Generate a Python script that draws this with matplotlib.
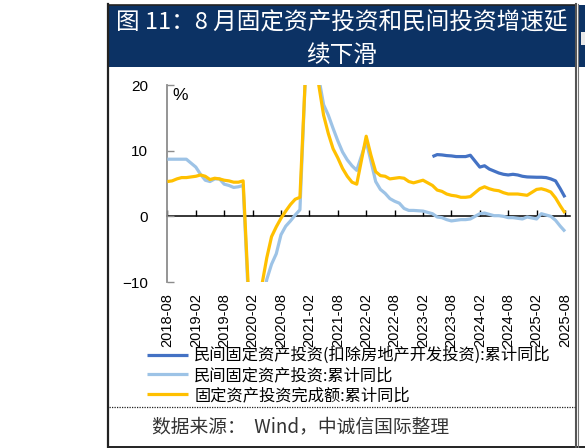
import matplotlib
matplotlib.use("Agg")
import matplotlib.pyplot as plt
from matplotlib.lines import Line2D
from matplotlib.patches import Rectangle
from matplotlib.font_manager import FontProperties

plt.rcParams['font.family'] = ['Noto Sans CJK SC', 'DejaVu Sans']
plt.rcParams['axes.unicode_minus'] = True

# ---------------- data ----------------
fai_dates = ['2018-08','2018-09','2018-10','2018-11','2018-12',
             '2019-02','2019-03','2019-04','2019-05','2019-06','2019-07','2019-08','2019-09','2019-10','2019-11','2019-12',
             '2020-02','2020-03','2020-04','2020-05','2020-06','2020-07','2020-08','2020-09','2020-10','2020-11','2020-12',
             '2021-02','2021-03','2021-04','2021-05','2021-06','2021-07','2021-08','2021-09','2021-10','2021-11','2021-12',
             '2022-02','2022-03','2022-04','2022-05','2022-06','2022-07','2022-08','2022-09','2022-10','2022-11','2022-12',
             '2023-02','2023-03','2023-04','2023-05','2023-06','2023-07','2023-08','2023-09','2023-10','2023-11','2023-12',
             '2024-02','2024-03','2024-04','2024-05','2024-06','2024-07','2024-08','2024-09','2024-10','2024-11','2024-12',
             '2025-02','2025-03','2025-04','2025-05','2025-06','2025-07','2025-08']
fai_total = [5.3, 5.4, 5.7, 5.9, 5.9,
             6.1, 6.3, 6.1, 5.6, 5.8, 5.7, 5.5, 5.4, 5.2, 5.2, 5.4,
             -24.5, -16.1, -10.3, -6.3, -3.1, -1.6, -0.3, 0.8, 1.8, 2.6, 2.9,
             35.0, 25.6, 19.9, 15.4, 12.6, 10.3, 8.9, 7.3, 6.1, 5.2, 4.9,
             12.2, 9.3, 6.8, 6.2, 6.1, 5.7, 5.8, 5.9, 5.8, 5.3, 5.1,
             5.5, 5.1, 4.7, 4.0, 3.8, 3.4, 3.2, 3.1, 2.9, 2.9, 3.0,
             4.2, 4.5, 4.2, 4.0, 3.9, 3.6, 3.4, 3.4, 3.4, 3.3, 3.2,
             4.1, 4.2, 4.0, 3.7, 2.8, 1.6, 0.5]
fai_private = [8.7, 8.7, 8.7, 8.7, 8.7,
               7.5, 6.4, 5.5, 5.3, 5.7, 5.7, 4.9, 4.7, 4.4, 4.5, 4.7,
               -26.4, -18.8, -13.3, -9.6, -7.3, -5.7, -2.8, -1.5, -0.7, 0.2, 1.0,
               36.4, 26.0, 21.0, 17.0, 15.4, 13.4, 11.5, 9.8, 8.6, 7.7, 7.0,
               11.4, 8.4, 5.3, 4.1, 3.5, 2.7, 2.3, 2.0, 1.2, 0.9, 0.9,
               0.8, 0.6, 0.4, -0.1, -0.2, -0.5, -0.7, -0.6, -0.5, -0.5, -0.4,
               0.4, 0.5, 0.3, 0.1, 0.1, 0.0, -0.2, -0.2, -0.3, -0.4, -0.1,
               -0.4, 0.4, 0.2, 0.0, -0.6, -1.5, -2.3]
exre_dates = ['2023-04','2023-05','2023-06','2023-07','2023-08','2023-09','2023-10','2023-11','2023-12',
              '2024-02','2024-03','2024-04','2024-05','2024-06','2024-07','2024-08','2024-09','2024-10','2024-11','2024-12',
              '2025-02','2025-03','2025-04','2025-05','2025-06','2025-07','2025-08']
private_ex_re = [9.1, 9.4, 9.35, 9.25, 9.2, 9.1, 9.1, 9.1, 9.3,
                 7.5, 7.7, 7.2, 6.9, 6.6, 6.4, 6.3, 6.4, 6.3, 6.1, 6.0,
                 5.95, 5.95, 5.9, 5.7, 5.4, 4.2, 2.9]
tick_labels = ['2018-08','2019-02','2019-08','2020-02','2020-08','2021-02','2021-08',
               '2022-02','2022-08','2023-02','2023-08','2024-02','2024-08','2025-02','2025-08']
y_ticks = [-10, 0, 10, 20]
series_names = ['民间固定资产投资(扣除房地产开发投资):累计同比',
                '民间固定资产投资:累计同比',
                '固定资产投资完成额:累计同比']
title_line1 = '图 11：8 月固定资产投资和民间投资增速延'
title_line2 = '续下滑'
source_text = '数据来源：  Wind，中诚信国际整理'


def month_index(s):
    y, m = s.split('-')
    return (int(y) - 2018) * 12 + (int(m) - 8)


x_fai = [month_index(d) for d in fai_dates]
x_exre = [month_index(d) for d in exre_dates]
x_ticks = [month_index(d) for d in tick_labels]

# ---------------- figure ----------------
W, H = 585, 448
fig = plt.figure(figsize=(W / 100, H / 100), dpi=100)


def fx(px):
    return px / W


def fy(py):
    return 1 - py / H


navy = '#0c3264'
# title box
fig.add_artist(Rectangle((fx(109), fy(67)), fx(575) - fx(109), fy(5) - fy(67),
                         transform=fig.transFigure, facecolor=navy, edgecolor='none'))
fig.add_artist(Rectangle((fx(579), fy(67)), fx(585) - fx(579), fy(5) - fy(67),
                         transform=fig.transFigure, facecolor=navy, edgecolor='none'))
fig.add_artist(Rectangle((fx(580.5), fy(45)), fx(585) - fx(580.5), fy(32) - fy(45),
                         transform=fig.transFigure, facecolor='#e8e8e8', edgecolor='none'))
# frame lines
fig.add_artist(Line2D([fx(108.3), fx(108.3)], [fy(4.5), fy(447)], transform=fig.transFigure,
                      color='#222222', lw=1.6))
fig.add_artist(Line2D([fx(108), fx(585)], [fy(446.6), fy(446.6)], transform=fig.transFigure,
                      color='#222222', lw=1.4))
fig.add_artist(Line2D([fx(108), fx(576)], [fy(5), fy(5)], transform=fig.transFigure,
                      color='#222222', lw=1.2))
fig.add_artist(Line2D([fx(575.8), fx(575.8)], [fy(4.5), fy(447)], transform=fig.transFigure,
                      color='#555555', lw=1.5))
fig.add_artist(Line2D([fx(578.2), fx(578.2)], [fy(4.5), fy(447)], transform=fig.transFigure,
                      color='#777777', lw=0.8))
fig.add_artist(Line2D([fx(109), fx(575)], [fy(406.7), fy(406.7)], transform=fig.transFigure,
                      color='#222222', lw=0.9, linestyle=(0, (1, 1))))

cjk = ['Noto Sans CJK SC', 'DejaVu Sans']
fig.text(fx(342), fy(23), title_line1, color='white', ha='center', va='center',
         fontsize=17, family=cjk)
fig.text(fx(342), fy(55), title_line2, color='white', ha='center', va='center',
         fontsize=17, family=cjk)
fig.text(fx(152), fy(427), source_text, color='#333333', ha='left', va='center',
         fontsize=13.5, family=cjk)

# ---------------- axes ----------------
ax_l, ax_r, ax_t, ax_b = 167.4, 570.0, 85.0, 282.0
ax = fig.add_axes([fx(ax_l), fy(ax_b), fx(ax_r) - fx(ax_l), fy(ax_t) - fy(ax_b)])
ax.set_facecolor('none')
ppm = 28.4 / 6.0
ax.set_xlim(0, (ax_r - ax_l) / ppm)
ax.set_ylim(-10, 20)

c_dark, c_light, c_yellow = '#4472c4', '#9dc3e6', '#ffc000'
l2, = ax.plot(x_fai, fai_private, color=c_light, lw=2.3, solid_capstyle='butt', zorder=3)
l3, = ax.plot(x_fai, fai_total, color=c_yellow, lw=2.3, solid_capstyle='butt', zorder=4)
l1, = ax.plot(x_exre, private_ex_re, color=c_dark, lw=2.3, solid_capstyle='butt', zorder=5)

for s in ['top', 'right', 'bottom']:
    ax.spines[s].set_visible(False)
ax.spines['left'].set_color('#8c8c8c')
ax.spines['left'].set_linewidth(1.3)

ax.set_yticks(y_ticks)
ax.tick_params(axis='y', direction='in', length=5, width=1.0, color='#8c8c8c',
               labelsize=11, pad=14, labelcolor='black')
for t in ax.get_yticklabels():
    t.set_family(['Liberation Sans', 'DejaVu Sans'])

ax.set_xticks(x_ticks)
ax.set_xticklabels(tick_labels, rotation=90, family=['Liberation Sans', 'DejaVu Sans'],
                   fontsize=10.5)
ax.tick_params(axis='x', length=0, pad=8)

sec = ax.secondary_xaxis(1.0 / 3.0)
sec.set_xticks(x_ticks)
sec.tick_params(axis='x', direction='in', length=4, width=1.0, color='black',
                labelbottom=False, labeltop=False)
sec.spines['bottom'].set_color('black')
sec.spines['bottom'].set_linewidth(1.1)

ax.text(0.0325, 0.949, '%', transform=ax.transAxes, ha='center', va='center',
        fontsize=12.5, family=['Liberation Sans', 'DejaVu Sans'])

fig.legend([l1, l2, l3], series_names, loc='upper left',
           bbox_to_anchor=(fx(147), fy(347)), frameon=False,
           prop=FontProperties(family=cjk, size=11.7),
           handlelength=2.5, handletextpad=0.4, labelspacing=0.17,
           borderpad=0, borderaxespad=0)

fig.savefig('out.png', dpi=100)
